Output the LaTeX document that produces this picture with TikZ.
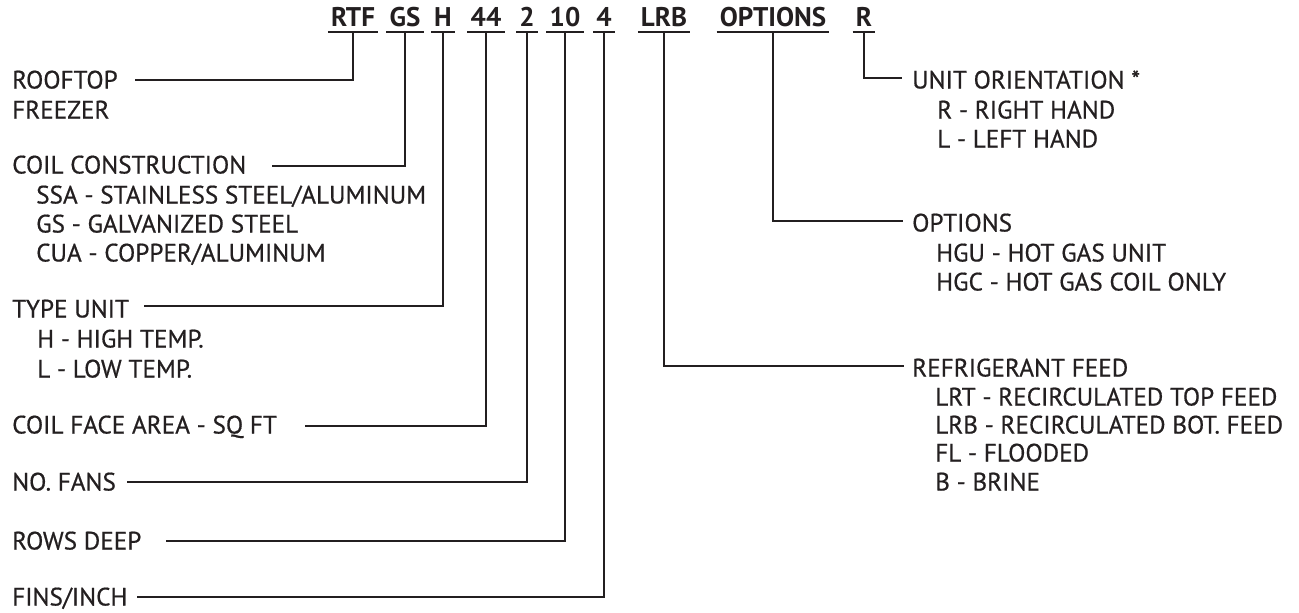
\documentclass[tikz,border=0pt]{standalone}
\usepackage{fontspec}
\setmainfont{PT Sans}
\newfontfamily\labfont[FakeBold=0.6]{PT Sans}
\definecolor{ink}{HTML}{231F20}
\begin{document}
\begin{tikzpicture}[x=1pt,y=-1pt,
  every node/.style={text=ink},
  lab/.style={anchor=west, inner sep=0pt, text height=17pt, text depth=0pt,
    font=\labfont\fontsize{25.2}{26}\selectfont},
  code/.style={anchor=base, inner xsep=3pt, inner ysep=5pt, text height=19pt, text depth=0pt,
    font=\fontsize{27}{28}\selectfont\bfseries},
  conn/.style={draw=ink, line width=2pt},
  uline/.style={draw=ink, line width=2pt}]
\useasboundingbox (0,0) rectangle (1299,613);

% model code
\node[code] (rtf) at (353,27) {RTF};
\node[code] (gs)  at (405,27) {GS};
\node[code] (h)   at (443,27) {H};
\node[code] (c44) at (486,27) {44};
\node[code] (c2)  at (527,27) {2};
\node[code] (c10) at (565,27) {10};
\node[code] (c4)  at (604,27) {4};
\node[code] (lrb) at (664,27) {LRB};
\node[code] (opt) at (773,27) {OPTIONS};
\node[code] (r)   at (864,27) {R};
\foreach \n in {rtf,gs,h,c44,c2,c10,c4,lrb,opt,r}
  \draw[uline] (\n.south west) -- (\n.south east);

% left labels
\node[lab] (roof) at (12,80) {ROOFTOP};
\node[lab] (frz)  at (12,110) {FREEZER};
\node[lab] (coil) at (12,165) {COIL CONSTRUCTION};
\node[lab] (ssa)  at (36,195) {SSA - STAINLESS STEEL/ALUMINUM};
\node[lab] (gss)  at (36,224) {GS - GALVANIZED STEEL};
\node[lab] (cua)  at (36,253) {CUA - COPPER/ALUMINUM};
\node[lab] (type) at (12,309) {TYPE UNIT};
\node[lab] (hi)   at (37,339) {H - HIGH TEMP.};
\node[lab] (lo)   at (37,369) {L - LOW TEMP.};
\node[lab] (face) at (12,425) {COIL FACE AREA - SQ FT};
\node[lab] (fans) at (12,482) {NO. FANS};
\node[lab] (rows) at (12,541) {ROWS DEEP};
\node[lab] (fins) at (12,597) {FINS/INCH};

% right labels
\node[lab] (orient) at (912,80) {UNIT ORIENTATION *};
\node[lab] (rh)     at (937,110) {R - RIGHT HAND};
\node[lab] (lh)     at (937,139) {L - LEFT HAND};
\node[lab] (opts)   at (912,223) {OPTIONS};
\node[lab] (hgu)    at (936,253) {HGU - HOT GAS UNIT};
\node[lab] (hgc)    at (936,282) {HGC - HOT GAS COIL ONLY};
\node[lab] (refr)   at (912,368) {REFRIGERANT FEED};
\node[lab] (lrt)    at (935,397) {LRT - RECIRCULATED TOP FEED};
\node[lab] (lrbf)   at (935,425) {LRB - RECIRCULATED BOT. FEED};
\node[lab] (fl)     at (935,453) {FL - FLOODED};
\node[lab] (br)     at (935,482) {B - BRINE};

% connector ends
\coordinate (roofL) at (135,80);
\coordinate (coilL) at (272,166);
\coordinate (typeL) at (144,306);
\coordinate (faceL) at (305,426);
\coordinate (fansL) at (127,482);
\coordinate (rowsL) at (166,541);
\coordinate (finsL) at (137,597);
\coordinate (orientR) at (902,78);
\coordinate (optsR) at (903,221);
\coordinate (refrR) at (904,366);

% connectors
\draw[conn] (roofL) -- (roofL -| rtf.south) -- (rtf.south);
\draw[conn] (coilL) -- (coilL -| gs.south) -- (gs.south);
\draw[conn] (typeL) -- (typeL -| h.south) -- (h.south);
\draw[conn] (faceL) -- (faceL -| c44.south) -- (c44.south);
\draw[conn] (fansL) -- (fansL -| c2.south) -- (c2.south);
\draw[conn] (rowsL) -- (rowsL -| c10.south) -- (c10.south);
\draw[conn] (finsL) -- (finsL -| c4.south) -- (c4.south);
\draw[conn] (r.south) -- (r.south |- orientR) -- (orientR);
\draw[conn] (opt.south) -- (opt.south |- optsR) -- (optsR);
\draw[conn] (lrb.south) -- (lrb.south |- refrR) -- (refrR);
\end{tikzpicture}
\end{document}
